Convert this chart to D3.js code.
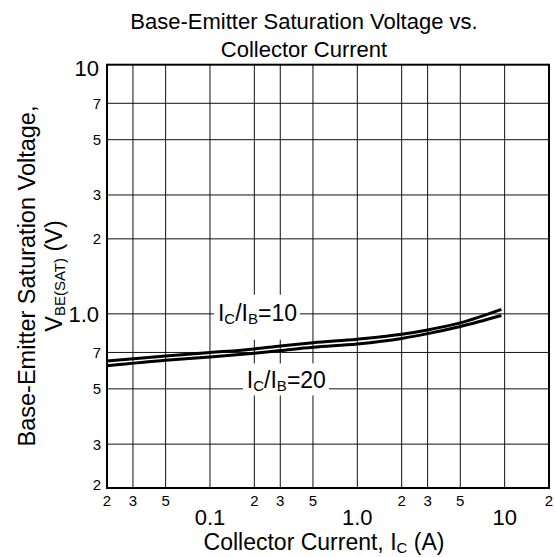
<!DOCTYPE html>
<html>
<head>
<meta charset="utf-8">
<script src="https://cdn.jsdelivr.net/npm/d3@7"></script>
<style>
  body { margin: 0; background: #fff; }
  svg { display: block; font-family: "Liberation Sans", Arial, sans-serif; }
</style>
</head>
<body>
<div id="chart"></div>
<script>
// collector current (A) and V_BE(sat) (V)
const currentA   = [0.02, 0.05, 0.1, 0.2, 0.3, 0.5, 1, 2, 3, 5, 9.5];
const vbeRatio10 = [0.647, 0.677, 0.699, 0.723, 0.743, 0.766, 0.791, 0.828, 0.862, 0.920, 1.042];
const vbeRatio20 = [0.619, 0.651, 0.671, 0.695, 0.712, 0.734, 0.757, 0.797, 0.833, 0.890, 0.985];

const xGrid = [0.03, 0.05, 0.1, 0.2, 0.3, 0.5, 1, 2, 3, 5, 10];
const xMinorTicks = [0.02, 0.03, 0.05, 0.2, 0.3, 0.5, 2, 3, 5, 20];
const xMinorLabels = ["2", "3", "5", "2", "3", "5", "2", "3", "5", "2"];
const xMajorTicks = [0.1, 1, 10];
const xMajorLabels = ["0.1", "1.0", "10"];

const yGrid = [7, 5, 3, 2, 1, 0.7, 0.5, 0.3];
const yMinorTicks = [7, 5, 3, 2, 0.7, 0.5, 0.3, 0.2];
const yMinorLabels = ["7", "5", "3", "2", "7", "5", "3", "2"];
const yMajorTicks = [10, 1];
const yMajorLabels = ["10", "1.0"];

const seriesNames = ["10", "20"];
const labelAt = [[0.21, 1.0], [0.33, 0.535]];

const width = 555, height = 557;
const margin = {top: 64.7, right: 6, bottom: 69, left: 107};

const svg = d3.select("#chart").append("svg")
    .attr("width", width)
    .attr("height", height)
    .attr("viewBox", [0, 0, width, height]);

const x = d3.scaleLog().domain([0.02, 20]).range([margin.left, width - margin.right]);
const y = d3.scaleLog().domain([0.2, 10]).range([height - margin.bottom, margin.top]);

// grid
svg.append("g").selectAll("line")
    .data(xGrid).join("line")
    .attr("x1", d => x(d)).attr("x2", d => x(d))
    .attr("y1", y(0.2)).attr("y2", y(10))
    .attr("stroke", "#111").attr("stroke-width", 1);
svg.append("g").selectAll("line")
    .data(yGrid).join("line")
    .attr("y1", d => y(d)).attr("y2", d => y(d))
    .attr("x1", x(0.02)).attr("x2", x(20))
    .attr("stroke", "#111").attr("stroke-width", 1);

// curve labels with white boxes
const subT = (t, main, sub) => {
  t.append("tspan").text("I");
  t.append("tspan").attr("font-size", 15).attr("dy", 3).text(main);
  t.append("tspan").attr("dy", -3).text("/I");
  t.append("tspan").attr("font-size", 15).attr("dy", 3).text(sub);
};
const pads = [{l: 4, r: 3, t: 5, b: 13}, {l: 4, r: 3, t: 4, b: 1}];
seriesNames.forEach((name, i) => {
  const g = svg.append("g");
  const rect = g.append("rect").attr("fill", "#fff");
  const t = g.append("text")
      .attr("x", x(labelAt[i][0]))
      .attr("y", y(labelAt[i][1]))
      .attr("dy", "0.3em")
      .attr("text-anchor", "middle")
      .attr("font-size", 23);
  subT(t, "C", "B");
  t.append("tspan").attr("dy", -3).text("=" + name);
  const bb = t.node().getBBox();
  const p = pads[i];
  rect.attr("x", bb.x - p.l).attr("y", bb.y - p.t)
      .attr("width", bb.width + p.l + p.r).attr("height", bb.height + p.t + p.b);
});

// curves
const line = d3.line()
    .x((d, i) => x(currentA[i]))
    .y(d => y(d))
    .curve(d3.curveMonotoneX);
svg.append("g").selectAll("path")
    .data([vbeRatio10, vbeRatio20]).join("path")
    .attr("d", line)
    .attr("fill", "none")
    .attr("stroke", "#000")
    .attr("stroke-width", 3);

// frame
svg.append("rect")
    .attr("x", x(0.02)).attr("y", y(10))
    .attr("width", x(20) - x(0.02)).attr("height", y(0.2) - y(10))
    .attr("fill", "none").attr("stroke", "#000").attr("stroke-width", 2);

// x tick labels
svg.append("g").selectAll("text")
    .data(xMinorTicks).join("text")
    .attr("x", d => x(d)).attr("y", 506)
    .attr("text-anchor", "middle").attr("font-size", 15)
    .text((d, i) => xMinorLabels[i]);
svg.append("g").selectAll("text")
    .data(xMajorTicks).join("text")
    .attr("x", d => x(d)).attr("y", 525)
    .attr("text-anchor", "middle").attr("font-size", 22)
    .text((d, i) => xMajorLabels[i]);

// y tick labels
const yc = v => Math.min(Math.max(y(v), 68.5), 485);
svg.append("g").selectAll("text")
    .data(yMinorTicks).join("text")
    .attr("x", 101).attr("y", d => yc(d)).attr("dy", "0.36em")
    .attr("text-anchor", "end").attr("font-size", 15)
    .text((d, i) => yMinorLabels[i]);
svg.append("g").selectAll("text")
    .data(yMajorTicks).join("text")
    .attr("x", 99).attr("y", d => yc(d)).attr("dy", "0.36em")
    .attr("text-anchor", "end").attr("font-size", 22)
    .text((d, i) => yMajorLabels[i]);

// title
svg.append("text").attr("x", 304).attr("y", 29)
    .attr("text-anchor", "middle").attr("font-size", 22)
    .text("Base-Emitter Saturation Voltage vs.");
svg.append("text").attr("x", 304).attr("y", 57)
    .attr("text-anchor", "middle").attr("font-size", 22)
    .text("Collector Current");

// x axis title
const xt = svg.append("text").attr("x", 324).attr("y", 550)
    .attr("text-anchor", "middle").attr("font-size", 23);
xt.append("tspan").text("Collector Current, I");
xt.append("tspan").attr("font-size", 15).attr("dy", 3).text("C");
xt.append("tspan").attr("dy", -3).text(" (A)");

// y axis title
const yt = svg.append("g").attr("transform", "translate(35,276) rotate(-90)");
yt.append("text").attr("text-anchor", "middle").attr("font-size", 23.5)
    .text("Base-Emitter Saturation Voltage,");
const yt2 = yt.append("text").attr("y", 27).attr("text-anchor", "middle").attr("font-size", 23.5);
yt2.append("tspan").text("V");
yt2.append("tspan").attr("font-size", 15).attr("dy", 3).text("BE(SAT)");
yt2.append("tspan").attr("dy", -3).text(" (V)");
</script>
</body>
</html>
